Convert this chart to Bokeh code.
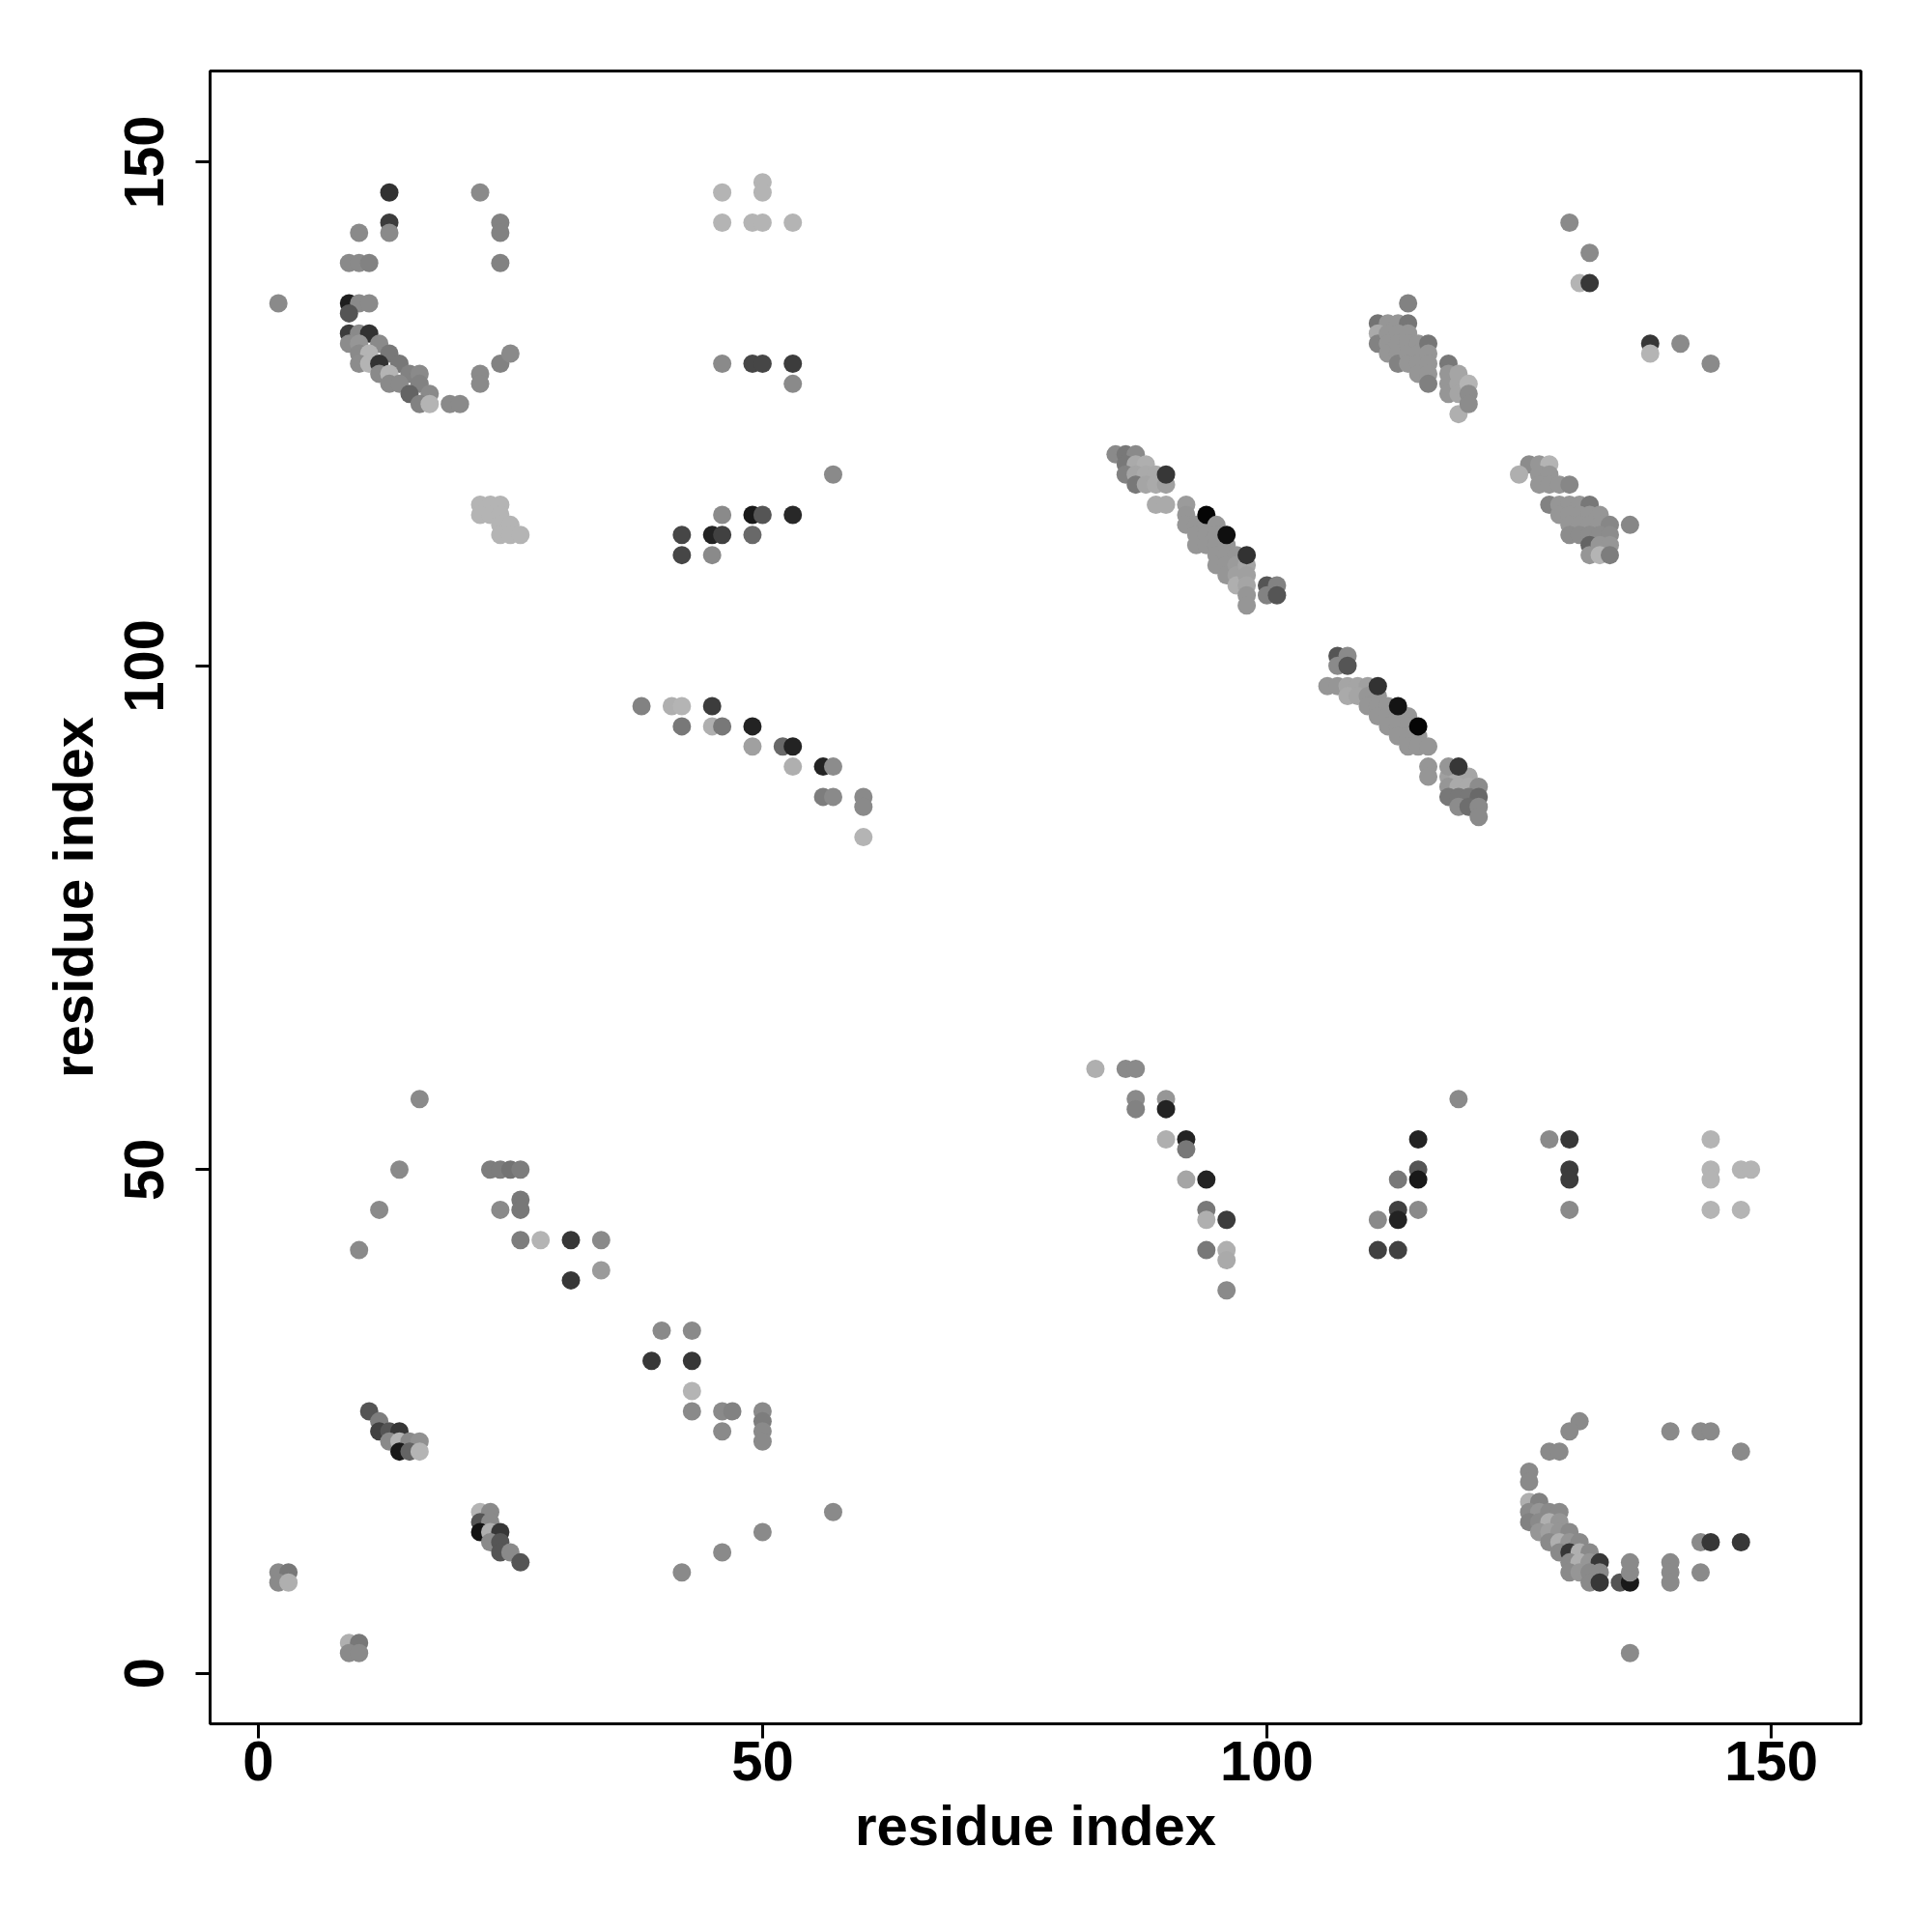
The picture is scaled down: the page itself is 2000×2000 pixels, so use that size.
from bokeh.plotting import figure
from bokeh.models import Range1d, ColumnDataSource, FixedTicker
from bokeh.embed import file_html
from bokeh.resources import INLINE

# contacts: (residue i, residue j, grey level 0=black .. 255=white)
top_left = [
    (13, 147, 50), (22, 147, 138), (13, 144, 60), (13, 143, 138), (10, 143, 138),
    (24, 144, 130), (24, 143, 130), (9, 140, 138), (10, 140, 138), (11, 140, 130),
    (24, 140, 130), (2, 136, 138), (9, 136, 30), (10, 136, 138), (11, 136, 138),
    (9, 135, 85), (9, 133, 60), (10, 133, 138), (11, 133, 50),
    (9, 132, 140), (10, 132, 150), (12, 132, 138),
    (10, 131, 138), (11, 131, 180), (13, 131, 120),
    (10, 130, 140), (11, 130, 180), (12, 130, 50), (14, 130, 120),
    (12, 129, 138), (13, 129, 180), (15, 129, 130), (16, 129, 138),
    (13, 128, 138), (14, 128, 138), (16, 128, 130), (17, 127, 138),
    (15, 127, 100), (16, 126, 130), (17, 126, 180),
    (19, 126, 138), (20, 126, 138), (22, 129, 138), (22, 128, 138),
    (24, 130, 130), (25, 131, 138),
]
top_mid = [
    (46, 147, 180), (50, 148, 180), (50, 147, 180),
    (46, 144, 180), (49, 144, 180), (50, 144, 180), (53, 144, 180),
    (46, 130, 138), (49, 130, 70), (50, 130, 70), (53, 130, 60), (53, 128, 138),
    (57, 119, 138),
    (46, 115, 138), (49, 115, 25), (50, 115, 85), (53, 115, 40),
    (42, 113, 70), (45, 113, 35), (46, 113, 65), (49, 113, 105),
    (42, 111, 70), (45, 111, 138),
]
light_patch = [
    (22, 116, 180), (23, 116, 180), (24, 116, 180), (22, 115, 180), (23, 115, 180),
    (24, 115, 180), (24, 114, 180), (25, 114, 180), (24, 113, 180), (25, 113, 180),
    (26, 113, 180),
]
mid_left = [
    (38, 96, 130), (41, 96, 175), (42, 96, 180), (45, 96, 60),
    (42, 94, 120), (45, 94, 175), (46, 94, 120), (49, 94, 35),
    (49, 92, 160), (52, 92, 105), (53, 92, 35),
    (53, 90, 175), (56, 90, 35), (57, 90, 140),
    (56, 87, 125), (57, 87, 138), (60, 87, 138), (60, 86, 138),
    (60, 83, 180),
]
band_one = [
    (85, 121, 138), (86, 121, 120), (87, 121, 138),
    (86, 120, 120), (87, 120, 170), (88, 120, 175),
    (86, 119, 130), (87, 119, 165), (88, 119, 170), (89, 119, 170),
    (87, 118, 120), (88, 118, 165), (89, 118, 170), (90, 118, 160), (90, 119, 55),
    (89, 116, 170), (90, 116, 170), (92, 116, 155),
    (92, 115, 150), (92, 114, 150), (93, 114, 150), (93, 113, 150), (93, 112, 150),
    (94, 114, 150), (94, 113, 150), (94, 112, 150), (94, 115, 5),
    (95, 114, 150), (95, 113, 150), (95, 112, 150), (95, 111, 150), (95, 110, 150),
    (96, 112, 150), (96, 111, 150), (96, 110, 150), (96, 109, 150), (96, 113, 15),
    (97, 111, 150), (97, 110, 155), (97, 109, 160), (97, 108, 175),
    (98, 110, 165), (98, 109, 160), (98, 108, 165), (98, 107, 150), (98, 106, 150),
    (98, 111, 50),
    (100, 108, 85), (101, 108, 130), (100, 107, 130), (101, 107, 85),
]
upper_right_band = [
    (114, 136, 130), (111, 134, 115), (112, 134, 150), (113, 134, 150), (114, 134, 118),
    (111, 133, 170), (111, 132, 130), (112, 133, 150), (112, 132, 150), (112, 131, 150),
    (113, 133, 150), (113, 132, 150), (113, 131, 150), (113, 130, 130),
    (114, 133, 150), (114, 132, 150), (114, 131, 150), (114, 130, 150),
    (115, 132, 150), (115, 131, 150), (115, 130, 150), (115, 129, 150),
    (116, 132, 118), (116, 131, 150), (116, 130, 150), (116, 129, 150), (116, 128, 128),
    (118, 130, 120), (118, 129, 150), (118, 128, 150), (118, 127, 150),
    (119, 129, 165), (119, 128, 165), (119, 127, 165), (119, 125, 175),
    (120, 128, 180), (120, 127, 140), (120, 126, 140),
]
far_top_right = [
    (130, 144, 138), (132, 141, 138), (131, 138, 180), (132, 138, 55),
    (138, 132, 55), (138, 131, 180), (141, 132, 138), (144, 130, 138),
]
right_band = [
    (126, 120, 140), (127, 120, 150), (128, 120, 180), (125, 119, 175),
    (127, 119, 150), (128, 119, 150), (127, 118, 150), (128, 118, 150),
    (129, 118, 150), (130, 118, 135), (128, 116, 130), (129, 116, 150),
    (130, 116, 150), (131, 116, 150), (132, 116, 120),
    (129, 115, 150), (130, 115, 150), (131, 115, 150), (132, 115, 150), (133, 115, 150),
    (130, 114, 150), (131, 114, 150), (132, 114, 150), (133, 114, 150),
    (134, 114, 135), (136, 114, 135),
    (130, 113, 140), (131, 113, 140), (132, 113, 140), (133, 113, 140), (134, 113, 140),
    (132, 112, 100), (133, 112, 150), (134, 112, 150),
    (132, 111, 150), (133, 111, 180), (134, 111, 125),
]
band_two = [
    (107, 101, 85), (108, 101, 138), (107, 100, 138), (108, 100, 85),
    (106, 98, 150), (107, 98, 150), (108, 98, 165), (109, 98, 165), (110, 98, 160),
    (108, 97, 170), (109, 97, 165), (110, 97, 150), (111, 97, 150),
    (110, 96, 150), (111, 96, 150), (112, 96, 150),
    (111, 95, 150), (112, 95, 150), (113, 95, 150), (114, 95, 150),
    (112, 94, 150), (113, 94, 150), (114, 94, 150),
    (113, 93, 150), (114, 93, 150), (115, 93, 150),
    (114, 92, 150), (115, 92, 150), (116, 92, 150),
    (111, 98, 50), (113, 96, 20), (115, 94, 5),
    (116, 90, 150), (116, 89, 150),
    (118, 89, 160), (119, 89, 170), (120, 89, 165),
    (118, 88, 150), (119, 88, 170), (120, 88, 170), (121, 88, 140),
    (118, 87, 120), (119, 87, 120), (120, 87, 120), (121, 87, 105),
    (119, 86, 140), (120, 86, 110), (121, 86, 138), (121, 85, 138),
    (118, 90, 150), (119, 90, 55),
]
low_left = [
    (16, 57, 138), (14, 50, 138), (12, 46, 138), (10, 42, 138),
    (23, 50, 125), (24, 50, 125), (25, 50, 115), (26, 50, 125),
    (24, 46, 138), (26, 47, 120), (26, 46, 120),
    (26, 43, 125), (28, 43, 180), (31, 43, 55), (34, 43, 138),
    (34, 40, 155), (31, 39, 55),
]
bottom_left = [
    (11, 26, 85), (12, 25, 125), (12, 24, 65), (13, 24, 85), (14, 24, 55),
    (13, 23, 138), (14, 23, 180), (15, 23, 138), (16, 23, 145),
    (14, 22, 25), (15, 22, 100), (16, 22, 180),
    (22, 16, 180), (23, 16, 138), (22, 15, 85), (23, 15, 138),
    (22, 14, 20), (23, 14, 175), (24, 14, 55), (23, 13, 138), (24, 13, 85),
    (24, 12, 85), (25, 12, 138), (26, 11, 85),
    (2, 10, 138), (3, 10, 120), (2, 9, 138), (3, 9, 175),
    (9, 3, 175), (10, 3, 120), (9, 2, 138), (10, 2, 138),
]
bottom_mid = [
    (39, 31, 55), (40, 34, 138), (43, 34, 138), (43, 31, 55), (43, 28, 180),
    (43, 26, 138), (46, 26, 138), (47, 26, 130), (46, 24, 138),
    (50, 26, 138), (50, 25, 125), (50, 24, 138), (50, 23, 138),
    (42, 10, 138), (46, 12, 138), (50, 14, 138), (57, 16, 138),
]
mid_right = [
    (83, 60, 175), (86, 60, 138), (87, 60, 138),
    (87, 57, 138), (87, 56, 130), (90, 57, 150), (90, 56, 35),
    (90, 53, 175), (92, 53, 35), (92, 52, 120),
    (92, 49, 165), (94, 49, 35),
    (94, 46, 120), (94, 45, 175), (96, 45, 60),
    (94, 42, 120), (96, 42, 175), (96, 41, 170), (96, 38, 138),
    (119, 57, 138), (115, 53, 35), (115, 50, 85), (115, 49, 25), (113, 49, 120),
    (113, 46, 65), (113, 45, 35), (115, 46, 138), (111, 45, 138),
    (111, 42, 65), (113, 42, 65),
]
right_mid = [
    (128, 53, 138), (130, 53, 55), (130, 50, 60), (130, 49, 60), (130, 46, 138),
    (144, 53, 180), (144, 50, 180), (144, 49, 180), (144, 46, 180),
    (147, 50, 180), (148, 50, 180), (147, 46, 180),
]
bottom_right = [
    (131, 25, 138), (130, 24, 138), (128, 22, 138), (129, 22, 138),
    (126, 20, 138), (126, 19, 138),
    (140, 24, 138), (143, 24, 138), (144, 24, 138), (147, 22, 138),
    (126, 17, 175), (127, 17, 130),
    (126, 16, 138), (127, 16, 150), (128, 16, 138), (129, 16, 138),
    (126, 15, 130), (127, 15, 138), (128, 15, 175), (129, 15, 150),
    (127, 14, 150), (128, 14, 160), (129, 14, 150), (130, 14, 138),
    (128, 13, 138), (129, 13, 175), (130, 13, 150), (131, 13, 138),
    (129, 12, 138), (130, 12, 55), (131, 12, 175), (132, 12, 138),
    (130, 11, 138), (131, 11, 175), (132, 11, 150), (133, 11, 55),
    (130, 10, 138), (131, 10, 150), (132, 10, 138), (133, 10, 138),
    (132, 9, 138), (133, 9, 55),
    (135, 9, 85), (136, 9, 25), (136, 10, 138), (136, 11, 138),
    (140, 11, 138), (140, 10, 138), (140, 9, 138),
    (143, 13, 138), (144, 13, 55), (147, 13, 55), (143, 10, 138),
    (136, 2, 138),
]

clusters = [top_left, top_mid, light_patch, mid_left, band_one, upper_right_band,
            far_top_right, right_band, band_two, low_left, bottom_left, bottom_mid,
            mid_right, right_mid, bottom_right]

xs, ys, cols = [], [], []
for cl in clusters:
    for (i, j, g) in cl:
        xs.append(i)
        ys.append(j)
        cols.append("#%02x%02x%02x" % (g, g, g))

src = ColumnDataSource(data=dict(x=xs, y=ys, c=cols))

p = figure(width=1984, height=1984, output_backend="svg", toolbar_location=None,
           x_range=Range1d(-4.77, 158.9), y_range=Range1d(-5.03, 159.06),
           min_border_left=217, min_border_right=58, min_border_top=73,
           min_border_bottom=200)
p.scatter(x="x", y="y", source=src, size=19, fill_color="c", line_color=None)

p.xgrid.visible = False
p.ygrid.visible = False
p.outline_line_color = "black"
p.outline_line_width = 3
p.background_fill_color = "white"

ticks = [0, 50, 100, 150]
for ax in (p.xaxis[0], p.yaxis[0]):
    ax.ticker = FixedTicker(ticks=ticks)
    ax.axis_line_color = None
    ax.major_tick_in = 0
    ax.major_tick_out = 15
    ax.major_tick_line_width = 3
    ax.minor_tick_line_color = None
    ax.major_label_text_font = "Liberation Sans"
    ax.major_label_text_font_style = "bold"
    ax.major_label_text_font_size = "58px"
    ax.major_label_text_color = "black"
    ax.axis_label = "residue index"
    ax.axis_label_text_font = "Liberation Sans"
    ax.axis_label_text_font_style = "bold"
    ax.axis_label_text_font_size = "58px"
    ax.axis_label_text_color = "black"

p.xaxis[0].major_label_standoff = 3
p.xaxis[0].axis_label_standoff = 11
p.yaxis[0].major_label_orientation = "vertical"
p.yaxis[0].major_label_standoff = 33
p.yaxis[0].axis_label_standoff = 19

open("out.html", "w").write(file_html(p, INLINE))
